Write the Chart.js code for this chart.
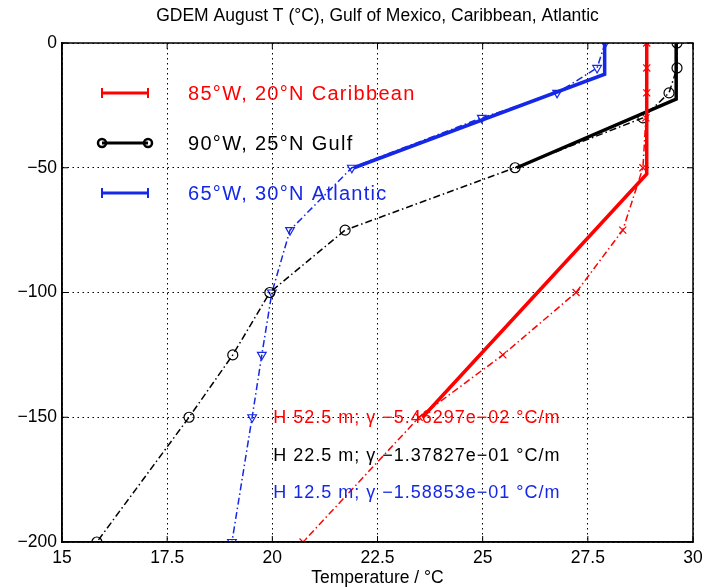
<!DOCTYPE html>
<html lang="en">
<head>
<meta charset="UTF-8" />
<title>GDEM August T</title>
<script src="https://cdn.jsdelivr.net/npm/chart.js"></script>
<style>
  html, body { margin: 0; padding: 0; background: #fff; }
  canvas { display: block; }
</style>
</head>
<body>
<canvas id="tempChart" width="705" height="587"></canvas>
<script>
  // GDEM profile depths (m) and temperatures (°C)
  const depths = [0, -10, -20, -30, -50, -75, -100, -125, -150, -200];
  const caribbeanT = [28.9, 28.9, 28.9, 28.88, 28.81, 28.33, 27.22, 25.48, 23.49, 20.73];
  const gulfT = [29.62, 29.62, 29.43, 28.81, 25.77, 21.73, 19.94, 19.06, 18.02, 15.83];
  const atlanticT = [27.91, 27.72, 26.77, 24.98, 21.89, 20.42, 19.99, 19.75, 19.52, 19.04];

  // mixed layer fits: vertices of the solid lines
  const caribbeanFitT = [28.9, 28.9, 23.57];
  const caribbeanFitD = [0, -52.5, -150];
  const gulfFitT = [29.6, 29.6, 25.81];
  const gulfFitD = [0, -22.5, -50];
  const atlanticFitT = [27.9, 27.9, 21.94];
  const atlanticFitD = [0, -12.5, -50];

  const legendLabels = ['85\u00b0W, 20\u00b0N Caribbean', '90\u00b0W, 25\u00b0N Gulf', '65\u00b0W, 30\u00b0N Atlantic'];
  const fitNotes = [
    'H 52.5 m; \u03b3 \u22125.46297e\u221202 \u00b0C/m',
    'H 22.5 m; \u03b3 \u22121.37827e\u221201 \u00b0C/m',
    'H 12.5 m; \u03b3 \u22121.58853e\u221201 \u00b0C/m'
  ];
  const noteT = 20.02;
  const noteDepths = [-150, -165, -180];

  const RED = '#ff0000', BLACK = '#000000', BLUE = '#1428e6';
  const colors = [RED, BLACK, BLUE];
  const FONT = "'Liberation Sans', Arial, sans-serif";

  const pts = (xs, ys) => xs.map((x, i) => ({ x: x, y: ys[i] }));

  const profileStyle = {
    showLine: true, borderWidth: 1.5, borderDash: [7, 3, 1.5, 3],
    pointRadius: 5, pointBorderWidth: 1.2, backgroundColor: 'transparent'
  };
  const fitStyle = { showLine: true, borderWidth: 3.5, pointRadius: 0 };

  // frame, inward ticks, title, legend and fit notes
  const extras = {
    id: 'extras',
    afterDatasetsDraw(chart) {
      const { ctx, chartArea: a, scales: { x, y } } = chart;
      ctx.save();
      ctx.strokeStyle = '#000';
      ctx.lineWidth = 1.5;
      ctx.strokeRect(a.left, a.top, a.right - a.left, a.bottom - a.top);
      ctx.lineWidth = 1;
      x.ticks.forEach(t => {
        const px = x.getPixelForValue(t.value);
        ctx.beginPath();
        ctx.moveTo(px, a.bottom); ctx.lineTo(px, a.bottom - 6);
        ctx.moveTo(px, a.top); ctx.lineTo(px, a.top + 6);
        ctx.stroke();
      });
      y.ticks.forEach(t => {
        const py = y.getPixelForValue(t.value);
        ctx.beginPath();
        ctx.moveTo(a.left, py); ctx.lineTo(a.left + 6, py);
        ctx.moveTo(a.right, py); ctx.lineTo(a.right - 6, py);
        ctx.stroke();
      });

      // title
      ctx.fillStyle = '#000';
      ctx.font = '17.5px ' + FONT;
      ctx.textAlign = 'center';
      ctx.textBaseline = 'middle';
      ctx.fillText('GDEM August T (\u00b0C), Gulf of Mexico, Caribbean, Atlantic', (a.left + a.right) / 2, 16);

      // legend
      const lx0 = a.left + 40, lx1 = a.left + 86, tx = a.left + 126;
      ctx.textAlign = 'left';
      ctx.font = '20px ' + FONT;
      ctx.letterSpacing = '1.3px';
      legendLabels.forEach((lab, i) => {
        const ly = a.top + 50 + i * 50;
        ctx.strokeStyle = colors[i];
        ctx.fillStyle = colors[i];
        ctx.lineWidth = 3;
        ctx.beginPath(); ctx.moveTo(lx0, ly); ctx.lineTo(lx1, ly); ctx.stroke();
        [lx0, lx1].forEach(mx => {
          ctx.beginPath();
          if (i === 1) {
            ctx.lineWidth = 2.5;
            ctx.arc(mx, ly, 4, 0, Math.PI * 2);
          } else {
            ctx.lineWidth = 2;
            ctx.moveTo(mx, ly - 5); ctx.lineTo(mx, ly + 5);
          }
          ctx.stroke();
        });
        ctx.fillText(lab, tx, ly + 1);
      });

      // fit notes
      ctx.font = '18px ' + FONT;
      ctx.letterSpacing = '1px';
      fitNotes.forEach((note, i) => {
        ctx.fillStyle = colors[i];
        ctx.fillText(note, x.getPixelForValue(noteT), y.getPixelForValue(noteDepths[i]) + 1);
      });
      ctx.restore();
    }
  };

  new Chart(document.getElementById('tempChart'), {
    type: 'scatter',
    data: {
      datasets: [
        Object.assign({ data: pts(caribbeanFitT, caribbeanFitD), borderColor: RED }, fitStyle),
        Object.assign({ data: pts(gulfFitT, gulfFitD), borderColor: BLACK }, fitStyle),
        Object.assign({ data: pts(atlanticFitT, atlanticFitD), borderColor: BLUE }, fitStyle),
        Object.assign({ data: pts(caribbeanT, depths), borderColor: RED, pointStyle: 'crossRot' }, profileStyle),
        Object.assign({ data: pts(gulfT, depths), borderColor: BLACK, pointStyle: 'circle', pointRadius: 4.5 }, profileStyle),
        Object.assign({ data: pts(atlanticT, depths), borderColor: BLUE, pointStyle: 'triangle', pointRotation: 180 }, profileStyle)
      ]
    },
    options: {
      responsive: false,
      animation: false,
      layout: { padding: { top: 43, right: 12, left: 0, bottom: 0 } },
      plugins: { legend: { display: false }, tooltip: { enabled: false } },
      scales: {
        x: {
          type: 'linear', min: 15, max: 30,
          afterFit: s => { s.height = 45; s.paddingLeft = 0; s.paddingRight = 0; },
          ticks: { stepSize: 2.5, color: '#000', padding: 6, maxRotation: 0, font: { family: FONT, size: 17.5 } },
          grid: { color: '#000', lineWidth: 1, drawTicks: false },
          border: { color: '#000', width: 1.5, dash: [1.5, 3.5] },
          title: {
            display: true, text: 'Temperature / \u00b0C', color: '#000',
            padding: { top: 0, bottom: 0 }, font: { family: FONT, size: 17.5, lineHeight: 1 }
          }
        },
        y: {
          type: 'linear', min: -200, max: 0,
          afterFit: s => { s.width = 62; s.paddingTop = 0; s.paddingBottom = 0; },
          ticks: {
            stepSize: 50, color: '#000', padding: 5, font: { family: FONT, size: 17.5 },
            callback: v => String(v).replace('-', '\u2212')
          },
          grid: { color: '#000', lineWidth: 1, drawTicks: false },
          border: { color: '#000', width: 1.5, dash: [1.5, 3.5] }
        }
      }
    },
    plugins: [extras]
  });
</script>
</body>
</html>
